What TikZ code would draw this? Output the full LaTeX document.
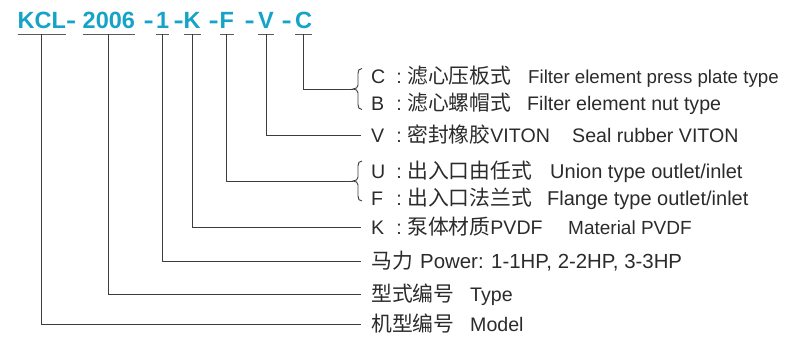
\documentclass[tikz,border=0pt]{standalone}
\usepackage{fontspec}
\setmainfont{Liberation Sans}
\newfontfamily\cjkf{Noto Sans CJK SC}
\definecolor{codecyan}{HTML}{15A3C7}
\definecolor{txtc}{HTML}{2B2B2B}
\definecolor{linec}{HTML}{3C3C3C}
\definecolor{stemc}{HTML}{5A5A5A}
\newcommand\fsz[1]{\fontsize{#1}{#1}\selectfont}
\newcommand\cjk{\cjkf\fsz{20.8}}
\newcommand\lead[1]{\makebox[25pt][l]{#1}\makebox[6pt]{:}\hspace{5pt}}
\begin{document}
\begin{tikzpicture}[x=1pt,y=-1pt,
  code/.style={font=\fsz{23.5}\bfseries, text=codecyan, inner sep=0pt, anchor=base west},
  dashc/.style={code, font=\fsz{23.5}\bfseries},
  lbl/.style={font=\fsz{19.6}, text=txtc, inner sep=0pt, anchor=west, text height=14pt, text depth=0pt},
  uline/.style={draw=stemc, line width=0.9pt},
  link/.style={draw=linec, line width=0.9pt},
  pics/lbrace/.style={code={
    \draw[link] (9,-#1) .. controls (6,-#1) and (5,-#1+2) .. (5,-#1+5) -- (5,-4)
      .. controls (5,-1.5) and (3,0) .. (0,0)
      .. controls (3,0) and (5,1.5) .. (5,4) -- (5,#1-5)
      .. controls (5,#1-2) and (6,#1) .. (9,#1);}}
]
\useasboundingbox (0,0) rectangle (785,340);

% header code
\node[code] (kcl) at (17.5,28) {KCL};
\node[dashc] (d1) at (66,28) {\scalebox{1.3}[1]{-}};
\node[code] (typ) at (82.5,28) {2006};
\node[dashc] (d2) at (143.5,28) {\scalebox{1.3}[1]{-}};
\node[code] (hp) at (156,28) {1};
\node[dashc] (d3) at (173.5,28) {\scalebox{1.3}[1]{-}};
\node[code] (mat) at (183.5,28) {K};
\node[dashc] (d4) at (208.5,28) {\scalebox{1.3}[1]{-}};
\node[code] (flg) at (219.5,28) {F};
\node[dashc] (d5) at (244.5,28) {\scalebox{1.3}[1]{-}};
\node[code] (seal) at (258,28) {V};
\node[dashc] (d6) at (281.5,28) {\scalebox{1.3}[1]{-}};
\node[code] (filt) at (295,28) {C};

% underlines
\foreach \n in {kcl,typ,hp,mat,flg,seal,filt}
  \draw[uline] ([yshift=-6pt]\n.base west) -- ([yshift=-6pt]\n.base east);

% labels
\node[lbl] (lc) at (371,76) {\lead{C}\makebox[121pt][l]{\cjk 滤心压板式}{\fsz{18.7}Filter element press plate type}};
\node[lbl] (lb) at (371,103) {\lead{B}\makebox[120pt][l]{\cjk 滤心螺帽式}Filter element nut type};
\node[lbl] (lv) at (371,135) {\lead{V}\makebox[165pt][l]{{\cjk 密封橡胶}VITON}Seal rubber VITON};
\node[lbl] (lu) at (371,171) {\lead{U}\makebox[143pt][l]{\cjk 出入口由任式}{\fsz{20}Union type outlet/inlet}};
\node[lbl] (lf) at (371,198) {\lead{F}\makebox[140pt][l]{\cjk 出入口法兰式}{\fsz{20}Flange type outlet/inlet}};
\node[lbl] (lk) at (371,227) {\lead{K}\makebox[161pt][l]{{\cjk 泵体材质}PVDF}{\fsz{19}Material PVDF}};
\node[lbl] (lp) at (371,261) {\makebox[49pt][l]{\cjk 马力}{\fsz{20.4}Power: 1-1HP, 2-2HP, 3-3HP}};
\node[lbl] (lt) at (371,294) {\makebox[99pt][l]{\cjk 型式编号}Type};
\node[lbl] (lm) at (371,324) {\makebox[99pt][l]{\cjk 机型编号}Model};

% brace tips
\coordinate (bcb) at (353,89);
\coordinate (buf) at (353,181);
\pic at (bcb) {lbrace=20.5};
\pic at (buf) {lbrace=20};

% connectors
\draw[link] ([yshift=-6pt]filt.base) |- (bcb);
\draw[link] ([yshift=-6pt]seal.base) |- ([xshift=-10pt]lv.west);
\draw[link] ([yshift=-6pt]flg.base) |- (buf);
\draw[link] ([yshift=-6pt]mat.base) |- ([xshift=-10pt]lk.west);
\draw[link] ([yshift=-6pt]hp.base) |- ([xshift=-10pt]lp.west);
\draw[link] ([yshift=-6pt]typ.base) |- ([xshift=-10pt]lt.west);
\draw[link] ([yshift=-6pt]kcl.base) |- ([xshift=-10pt]lm.west);
\end{tikzpicture}
\end{document}
